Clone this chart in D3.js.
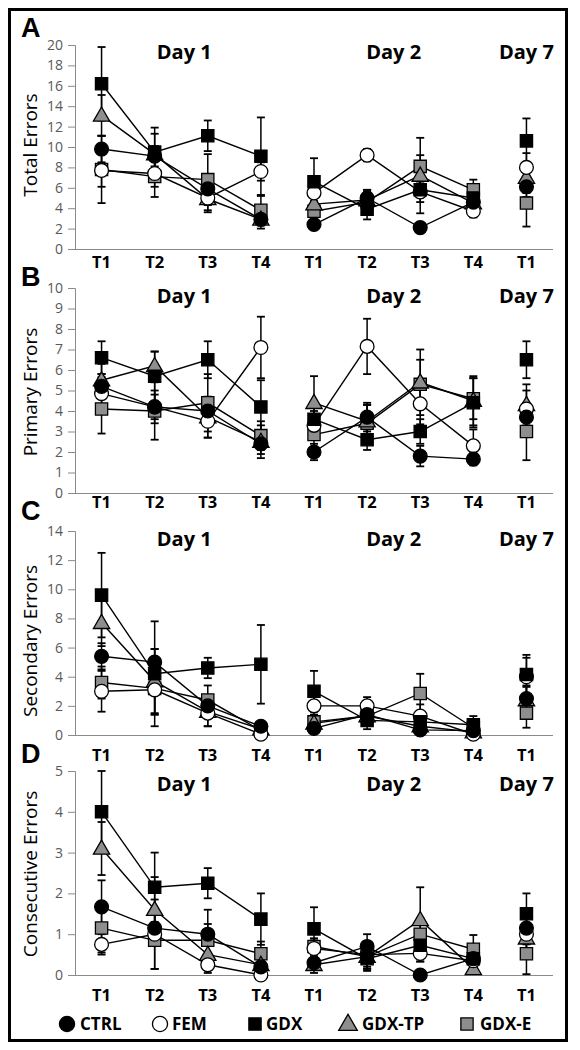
<!DOCTYPE html>
<html><head><meta charset="utf-8">
<script src="https://cdn.jsdelivr.net/npm/d3@7"></script>
<style>body{margin:0;background:#fff}svg{display:block}</style>
</head><body><svg id="c" width="580" height="1050"></svg>
<script>
const categories = ["T1","T2","T3","T4","T1","T2","T3","T4","T1"];
const dayOf = [1,1,1,1,2,2,2,2,7];
const dayLabels = ["Day 1","Day 2","Day 7"];
const seriesNames = ["CTRL","FEM","GDX","GDX-TP","GDX-E"];

// Panel A: Total Errors (rows: CTRL, FEM, GDX, GDX-TP, GDX-E)
const totalMean = [
  [9.8, 9.1, 5.9, 2.9, 2.4, 5.0, 2.1, 4.6, 6.1],
  [7.7, 7.4, 5.0, 7.6, 5.5, 9.2, 5.6, 3.7, 8.0],
  [16.2, 9.5, 11.1, 9.1, 6.6, 3.9, 5.8, 5.0, 10.6],
  [13.1, 9.3, 4.9, 2.9, 4.4, 4.8, 7.2, 4.5, 7.0],
  [7.8, 7.1, 6.8, 3.8, 3.7, 4.6, 8.1, 5.8, 4.5]];
const totalSem = [
  [1.3, 1.0, 1.0, 0.6, 0.5, 0.8, 0.5, 0.8, 1.0],
  [1.6, 1.3, 1.2, 0.9, 0.9, 0.6, 1.0, 0.6, 1.4],
  [3.6, 2.4, 1.5, 3.8, 2.3, 1.0, 2.3, 1.0, 2.2],
  [2.0, 2.0, 1.3, 0.9, 1.2, 1.0, 2.0, 1.2, 1.5],
  [3.3, 2.0, 2.5, 1.4, 1.0, 1.0, 2.8, 1.0, 2.3]];
// Panel B: Primary Errors
const primaryMean = [
  [5.2, 4.2, 4.0, 2.4, 2.0, 3.7, 1.8, 1.65, 3.7],
  [4.85, 4.2, 3.5, 7.1, 3.3, 7.15, 4.35, 2.3, 4.1],
  [6.6, 5.7, 6.5, 4.2, 3.6, 2.6, 3.0, 4.4, 6.5],
  [5.5, 6.2, 3.7, 2.5, 4.4, 3.5, 5.4, 4.5, 4.3],
  [4.1, 4.0, 4.4, 2.8, 2.85, 3.4, 5.3, 4.6, 3.0]];
const primarySem = [
  [0.6, 0.6, 0.6, 0.5, 0.4, 0.7, 0.5, 0.3, 0.6],
  [0.8, 0.8, 0.8, 1.5, 0.7, 1.35, 1.0, 0.8, 0.9],
  [0.8, 1.2, 0.9, 1.3, 0.8, 0.5, 0.6, 1.2, 0.9],
  [0.8, 0.7, 1.0, 0.8, 1.3, 0.8, 1.6, 1.2, 1.0],
  [1.2, 1.4, 1.4, 0.7, 0.8, 0.9, 1.2, 1.0, 1.4]];
// Panel C: Secondary Errors
const secondaryMean = [
  [5.4, 5.0, 2.0, 0.6, 0.45, 1.4, 0.35, 0.3, 2.5],
  [3.0, 3.1, 1.5, 0.05, 2.0, 2.0, 1.3, 0.05, 4.0],
  [9.6, 4.2, 4.6, 4.85, 3.0, 1.0, 0.9, 0.7, 4.15],
  [7.7, 3.7, 1.6, 0.4, 0.8, 1.3, 0.6, 0.2, 2.4],
  [3.6, 3.2, 2.4, 0.3, 0.9, 1.3, 2.85, 0.5, 1.5]];
const secondarySem = [
  [0.9, 0.9, 0.6, 0.3, 0.3, 0.5, 0.3, 0.2, 0.8],
  [1.4, 1.7, 0.9, 0.1, 0.8, 0.6, 0.8, 0.1, 1.3],
  [2.9, 3.6, 0.7, 2.7, 1.4, 0.6, 0.6, 0.6, 1.35],
  [1.6, 2.2, 1.0, 0.3, 0.4, 0.5, 0.4, 0.2, 1.0],
  [1.1, 1.8, 1.0, 0.2, 0.5, 0.5, 1.35, 0.3, 1.0]];
// Panel D: Consecutive Errors
const consecutiveMean = [
  [1.67, 1.15, 1.0, 0.2, 0.3, 0.7, 0.0, 0.4, 1.15],
  [0.75, 1.0, 0.25, 0.0, 0.65, 0.5, 0.53, 0.35, 1.0],
  [4.0, 2.15, 2.25, 1.37, 1.13, 0.4, 0.73, 0.4, 1.5],
  [3.1, 1.6, 0.5, 0.25, 0.25, 0.45, 1.35, 0.15, 0.9],
  [1.15, 0.85, 0.85, 0.52, 0.7, 0.45, 1.0, 0.63, 0.52]];
const consecutiveSem = [
  [0.65, 0.4, 0.6, 0.15, 0.15, 0.3, 0.0, 0.2, 0.4],
  [0.25, 0.85, 0.2, 0.0, 0.2, 0.3, 0.2, 0.2, 0.5],
  [1.0, 0.85, 0.37, 0.63, 0.53, 0.3, 0.4, 0.3, 0.5],
  [0.65, 0.8, 0.35, 0.2, 0.2, 0.3, 0.8, 0.2, 0.5],
  [0.6, 0.7, 0.4, 0.3, 0.2, 0.3, 0.4, 0.35, 0.5]];

const panelLetters = ["A","B","C","D"];
const yTitles = ["Total Errors","Primary Errors","Secondary Errors","Consecutive Errors"];
const yMax = [20, 10, 14, 5];
const yStep = [2, 1, 2, 1];

const panels = [
  {mean: totalMean, sem: totalSem, top: 45, bottom: 249, letterY: 37, dayY: 59, xlabY: 268, titleY: 145},
  {mean: primaryMean, sem: primarySem, top: 288, bottom: 493, letterY: 286, dayY: 303, xlabY: 508, titleY: 392},
  {mean: secondaryMean, sem: secondarySem, top: 531, bottom: 735, letterY: 520, dayY: 546, xlabY: 761, titleY: 641},
  {mean: consecutiveMean, sem: consecutiveSem, top: 771, bottom: 975, letterY: 763, dayY: 791, xlabY: 1001, titleY: 874}
];

const GRAY = "#8e8e8e";
const fills = {"CTRL":"#000","FEM":"#fff","GDX":"#000","GDX-TP":GRAY,"GDX-E":GRAY};
const shapes = {"CTRL":d3.symbolCircle,"FEM":d3.symbolCircle,"GDX":d3.symbolSquare,"GDX-TP":d3.symbolTriangle,"GDX-E":d3.symbolSquare};
const sizes = {"CTRL":150,"FEM":150,"GDX":150,"GDX-TP":115,"GDX-E":150};
const drawOrder = [4, 3, 1, 2, 0];

const svg = d3.select("#c");
svg.append("rect").attr("x",0).attr("y",0).attr("width",580).attr("height",1050).attr("fill","#fff");
svg.append("rect").attr("x",9.5).attr("y",9.5).attr("width",557).attr("height",1031)
  .attr("fill","none").attr("stroke","#000").attr("stroke-width",3);

const x = d3.scaleBand().domain(d3.range(categories.length)).range([75, 553]).padding(0);
const cx = i => x(i) + x.bandwidth()/2;

panels.forEach((p, pi) => {
  const y = d3.scaleLinear().domain([0, yMax[pi]]).range([p.bottom, p.top]);
  const g = svg.append("g");

  // y axis
  const yAxis = d3.axisLeft(y).tickValues(d3.range(0, yMax[pi] + 0.001, yStep[pi]))
    .tickSize(7).tickPadding(5).tickFormat(d3.format("d"));
  const ya = g.append("g").attr("transform","translate(75,0)").call(yAxis);
  ya.select(".domain").attr("stroke","#8a8a8a").attr("stroke-width",1);
  ya.selectAll(".tick line").attr("stroke","#8a8a8a");
  ya.selectAll(".tick text").attr("fill","#595959").style("font-family","'Open Sans',sans-serif").style("font-size","14px");

  // x axis line
  g.append("line").attr("x1",75).attr("x2",553).attr("y1",p.bottom+0.5).attr("y2",p.bottom+0.5)
    .attr("stroke","#8a8a8a").attr("stroke-width",1);
  g.selectAll(".xl").data(categories).join("text")
    .attr("x",(d,i)=>cx(i)).attr("y",p.xlabY).attr("text-anchor","middle")
    .style("font-family","'Open Sans',sans-serif").style("font-weight",700).style("font-size","16.5px")
    .text(d=>d);

  // day labels
  dayLabels.forEach((lab, di) => {
    const dnum = [1,2,7][di];
    const idx = d3.range(categories.length).filter(i => dayOf[i] === dnum);
    const mx = d3.mean(idx, cx) + (di === 0 ? 3 : 0);
    g.append("text").attr("x", mx).attr("y", p.dayY).attr("text-anchor","middle")
      .style("font-family","'Open Sans',sans-serif").style("font-weight",700).style("font-size","20px")
      .text(lab);
  });

  // panel letter
  g.append("text").attr("x",21).attr("y",p.letterY)
    .style("font-family","'Liberation Sans',Arial,sans-serif").style("font-weight",700).style("font-size","27px")
    .text(panelLetters[pi]);

  // y title
  g.append("text").attr("transform",`translate(37,${p.titleY}) rotate(-90)`).attr("text-anchor","middle")
    .style("font-family","'Open Sans',sans-serif").style("font-size","19px").text(yTitles[pi]);

  // lines
  const line = d3.line().x(d=>cx(d.i)).y(d=>y(d.v));
  drawOrder.forEach(si => {
    [1,2].forEach(dnum => {
      const pts = p.mean[si].map((v,i)=>({v,i})).filter(d => dayOf[d.i] === dnum);
      g.append("path").attr("d", line(pts)).attr("fill","none").attr("stroke","#000").attr("stroke-width",1.4);
    });
  });

  // error bars
  drawOrder.forEach(si => {
    p.mean[si].forEach((v,i) => {
      const e = p.sem[si][i];
      if (e <= 0) return;
      const hi = Math.min(v + e, yMax[pi]), lo = Math.max(v - e, 0);
      const xx = cx(i);
      g.append("line").attr("x1",xx).attr("x2",xx).attr("y1",y(hi)).attr("y2",y(lo)).attr("stroke","#000").attr("stroke-width",1.5);
      if (v + e <= yMax[pi]) g.append("line").attr("x1",xx-4).attr("x2",xx+4).attr("y1",y(hi)).attr("y2",y(hi)).attr("stroke","#000").attr("stroke-width",1.8);
      if (v - e >= 0) g.append("line").attr("x1",xx-4).attr("x2",xx+4).attr("y1",y(lo)).attr("y2",y(lo)).attr("stroke","#000").attr("stroke-width",1.8);
    });
  });

  // markers
  drawOrder.forEach(si => {
    const name = seriesNames[si];
    const sym = d3.symbol().type(shapes[name]).size(sizes[name]);
    p.mean[si].forEach((v,i) => {
      g.append("path").attr("d", sym()).attr("transform",`translate(${cx(i)},${y(v) + (name==="GDX-TP"?1:0)})`)
        .attr("fill", fills[name]).attr("stroke","#000").attr("stroke-width",1.3);
    });
  });
});

// legend
const legendX = [67, 160, 255, 348, 467];
const legendTextX = [80, 172, 266, 362, 480];
const legY = 1024;
seriesNames.forEach((name, i) => {
  const sym = d3.symbol().type(shapes[name]).size(name==="GDX-TP"?150:(name.startsWith("GDX")?150:180));
  svg.append("path").attr("d", sym()).attr("transform",`translate(${legendX[i]},${legY + (name==="GDX-TP"?1:0)})`)
    .attr("fill", fills[name]).attr("stroke","#000").attr("stroke-width",1.3);
  svg.append("text").attr("x", legendTextX[i]).attr("y", legY + 6)
    .style("font-family","'Open Sans',sans-serif").style("font-weight",700).style("font-size","17px").text(name);
});
</script></body></html>
